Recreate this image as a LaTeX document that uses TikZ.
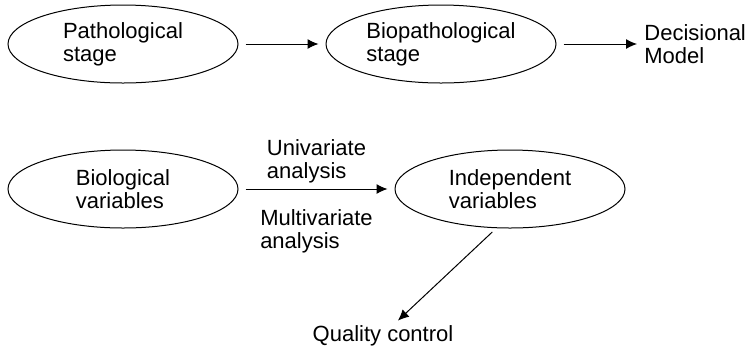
\documentclass[tikz,border=0pt]{standalone}
\usepackage{fontspec}
\setmainfont{Liberation Sans}
\usetikzlibrary{shapes.geometric, arrows.meta}

\begin{document}
\begin{tikzpicture}[x=0.5pt, y=-0.5pt,
    stage/.style={draw, ellipse, line width=0.5pt, minimum width=115pt,
      minimum height=39pt, inner sep=0pt, align=left,
      font=\fontsize{11}{11.5}\selectfont},
    txt/.style={inner sep=1pt, align=left, font=\fontsize{11}{11.5}\selectfont},
    link/.style={-{Latex[length=5.5pt, width=5pt]}, line width=0.5pt,
      shorten <=3.5pt, shorten >=3.5pt}]
  \useasboundingbox (0,0) rectangle (748,350);

  % 1. top row: stages and the model
  \node[stage] (patho) at (123,44) {Pathological\\stage};
  \node[stage] (biopatho) at (441,44) {Biopathological\\stage};
  \node[txt, anchor=west] (model) at (642,44) {Decisional\\Model};

  % 2. bottom row: variables
  \node[stage] (biovar) at (123,189) {Biological\\variables};
  \node[stage] (indvar) at (510,189) {Independent\\variables};
  \node[txt] (quality) at (383,336) {Quality control};

  % 3. connectors
  \draw[link] (patho) -- (biopatho);
  \draw[link, shorten >=2.5pt] (biopatho) -- (model);
  \draw[link] (biovar) -- (indvar)
    node[txt, midway, above, yshift=1.5pt] (uni) {Univariate\\analysis}
    node[txt, midway, below, yshift=-9pt] (multi) {Multivariate\\analysis};
  \draw[link, shorten <=2.5pt, shorten >=2pt]
    ([xshift=-7pt]indvar.south) -- ([xshift=6pt]quality.north);
\end{tikzpicture}
\end{document}
